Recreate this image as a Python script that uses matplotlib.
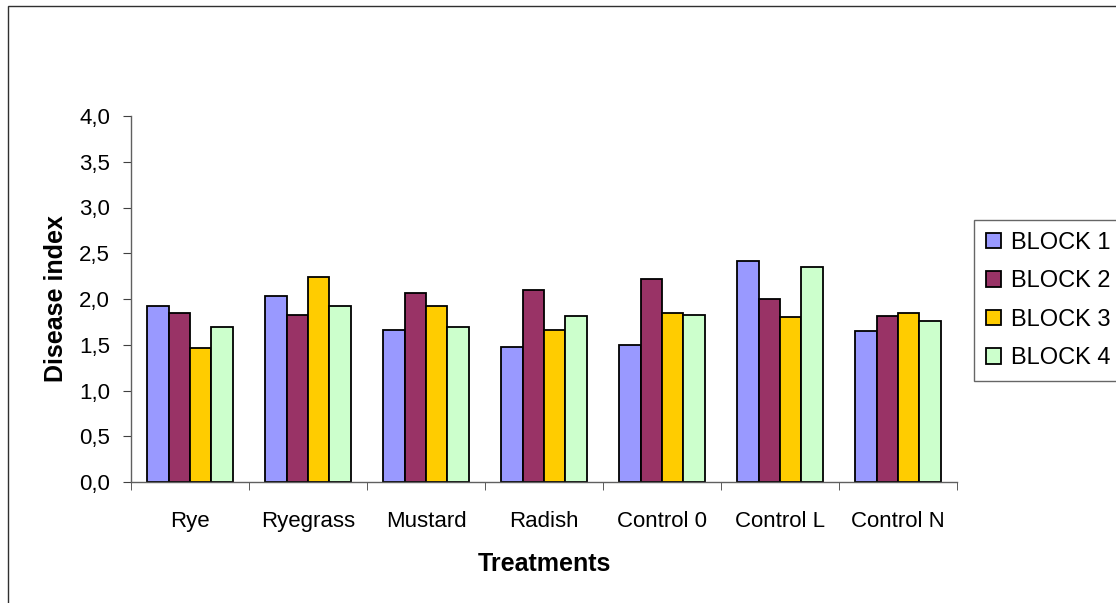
import matplotlib.pyplot as plt
import numpy as np
from matplotlib.patches import Rectangle
from matplotlib.ticker import FuncFormatter

treatments = ["Rye", "Ryegrass", "Mustard", "Radish", "Control 0", "Control L", "Control N"]
block1 = [1.92, 2.03, 1.66, 1.48, 1.50, 2.41, 1.65]
block2 = [1.85, 1.83, 2.07, 2.10, 2.22, 2.00, 1.81]
block3 = [1.46, 2.24, 1.92, 1.66, 1.85, 1.80, 1.85]
block4 = [1.69, 1.92, 1.69, 1.81, 1.83, 2.35, 1.76]
labels = ["BLOCK 1", "BLOCK 2", "BLOCK 3", "BLOCK 4"]
colors = ["#9999FF", "#993366", "#FFCC00", "#CCFFCC"]

plt.rcParams['font.family'] = ['Liberation Sans', 'DejaVu Sans']

fig = plt.figure(figsize=(11.16, 6.03), dpi=100)
ax = fig.add_axes([131 / 1116, 1 - 482 / 603, 826 / 1116, 366 / 603])

x = np.arange(len(treatments))
w = 0.182
series = [block1, block2, block3, block4]
for i, vals in enumerate(series):
    ax.bar(x + (i - 1.5) * w, vals, width=w, color=colors[i], edgecolor='black',
           linewidth=1.3, label=labels[i])

ax.set_xlim(-0.5, len(treatments) - 0.5)
ax.set_ylim(0, 4.0)
ax.set_yticks(np.arange(0, 4.01, 0.5))
ax.yaxis.set_major_formatter(FuncFormatter(lambda v, p: ("%.1f" % v).replace('.', ',')))
ax.set_xticks(x)
ax.set_xticklabels(treatments)
ax.set_xticks(np.arange(-0.5, len(treatments), 1), minor=True)
ax.tick_params(axis='x', which='major', length=0, pad=21, labelsize=16)
ax.tick_params(axis='x', which='minor', length=6, color='#404040', direction='out')
ax.tick_params(axis='y', length=6, color='#404040', labelsize=16, pad=9)

for s in ['top', 'right']:
    ax.spines[s].set_visible(False)
for s in ['left', 'bottom']:
    ax.spines[s].set_color('#606060')
    ax.spines[s].set_linewidth(1.0)

ax.set_ylabel("Disease index", fontsize=18, fontweight='bold', labelpad=8)
ax.set_xlabel("Treatments", fontsize=18, fontweight='bold', labelpad=14)

leg = fig.legend(loc='upper left', bbox_to_anchor=(974 / 1116, 1 - 220 / 603),
                 fontsize=17, frameon=True, fancybox=False, handlelength=0.64,
                 handleheight=0.64, borderpad=0.5, labelspacing=0.70, handletextpad=0.42,
                 borderaxespad=0)
leg.get_frame().set_edgecolor('#404040')
leg.get_frame().set_linewidth(1.0)

fig.add_artist(Rectangle((8 / 1116, -0.01), 1.0, 1 - 6 / 603 + 0.01, transform=fig.transFigure,
                         fill=False, edgecolor='#303030', linewidth=1.0))

fig.savefig("out.png", dpi=100)
